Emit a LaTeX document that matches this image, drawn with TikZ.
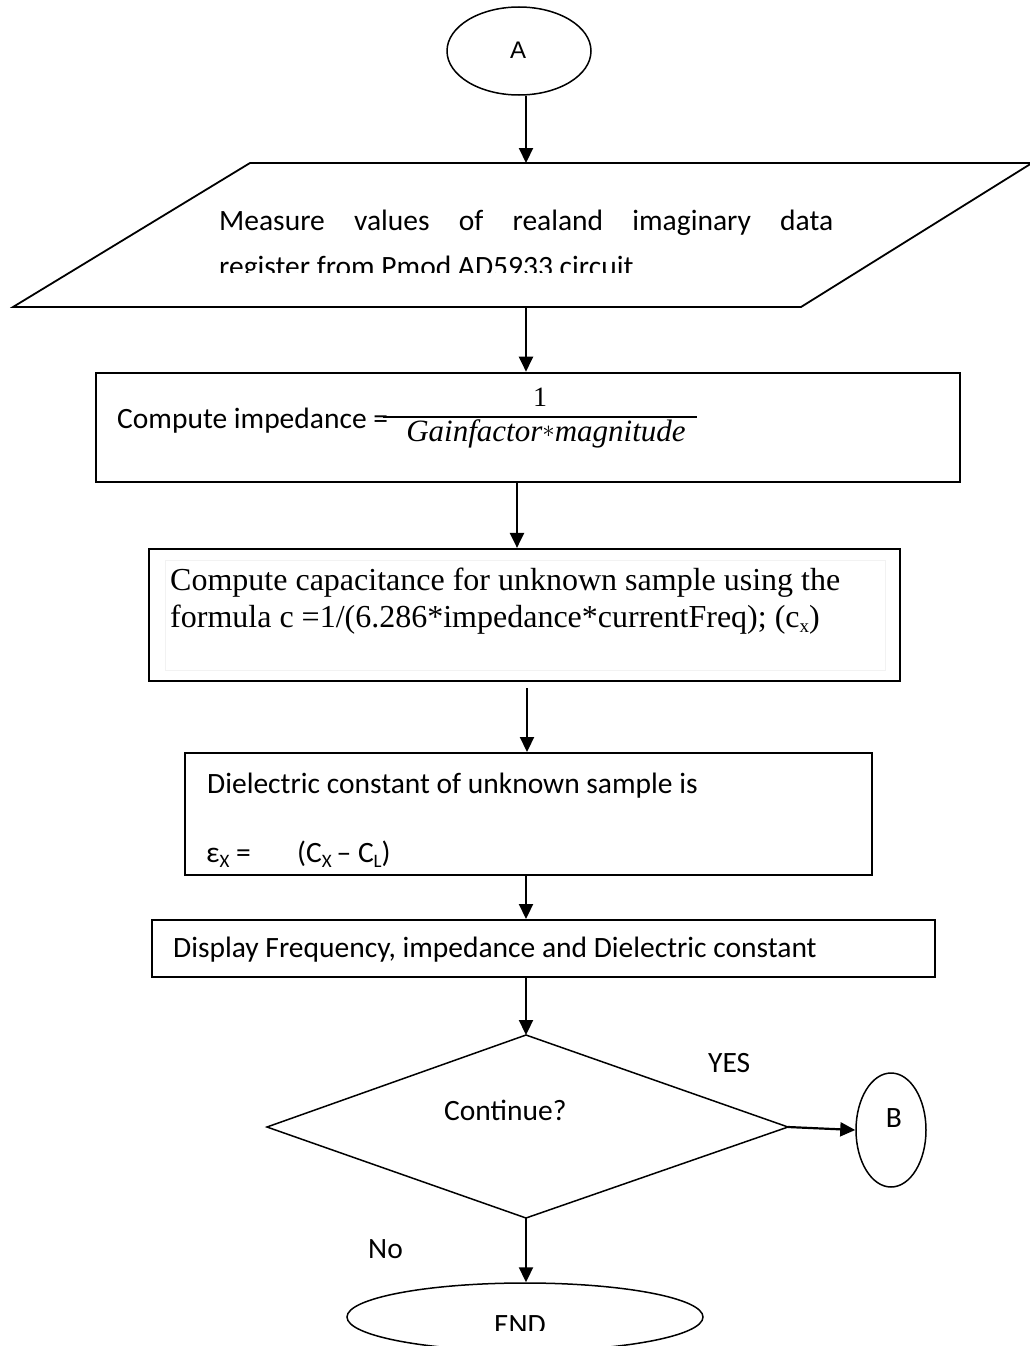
\documentclass[tikz,border=0pt]{standalone}
\usepackage{fontspec}
\setmainfont{Carlito}
\newfontfamily\tnr{Liberation Serif}
\newfontfamily\arialf{Liberation Sans}
\usetikzlibrary{arrows.meta,shapes.geometric}
\newcommand{\lowsub}[1]{\raisebox{-0.17em}{\fontsize{19}{20}\selectfont #1}}
\tikzset{
  box/.style={draw, line width=2pt, rectangle, inner sep=0pt},
  oval/.style={draw, line width=1.5pt, ellipse, inner sep=0pt},
  arr/.style={line width=2.2pt, -{Triangle[length=15pt,width=14pt]}},
  lbl/.style={inner sep=0pt, anchor=base west},
  cal/.style={font=\fontsize{29.5}{35}\selectfont},
  tms/.style={font=\tnr\fontsize{32}{37}\selectfont},
}
\begin{document}
\begin{tikzpicture}[x=1pt,y=-1pt]
\useasboundingbox (0,0) rectangle (1030,1346);
\fill[white] (0,0) rectangle (1030,1346);
\coordinate (ax) at (526,0);
\coordinate (ax2) at (517,0);

% start connector A
\node[oval, minimum width=144pt, minimum height=88pt] (A) at (519,51) {};
\node[inner sep=0pt, anchor=base, font=\arialf\fontsize{24}{28}\selectfont] (Atxt) at (518,59) {A};

% parallelogram
\coordinate (p1) at (250,163);
\coordinate (p2) at (1032,163);
\coordinate (p3) at (801,307);
\coordinate (p4) at (13,307);
\draw[line width=1.8pt] (p1) -- (p2) -- (p3) -- (p4) -- cycle;
\coordinate (pT) at (526,163);
\coordinate (pB) at (526,307);
\node[lbl, cal] (m1) at (219,230) {\makebox[614pt][s]{Measure values of realand imaginary data}};
\begin{scope}
  \clip (0,0) rectangle (1030,272);
  \node[lbl, cal] (m2) at (219,276) {register from Pmod AD5933 circuit};
\end{scope}

% box 2
\node[box, line width=2.6pt, minimum width=864pt, minimum height=109pt] (b2) at (528,427.5) {};
\node[lbl, cal] (c1) at (117,428) {Compute impedance =};
\coordinate (fl) at (383,417);
\coordinate (fr) at (697,417);
\draw[line width=2.2pt] (fl) -- (fr);
\node[inner sep=0pt, anchor=base, font=\tnr\fontsize{28}{30}\selectfont] (num) at (540,406) {1};
\node[inner sep=0pt, anchor=base, font=\tnr\itshape\fontsize{31}{34}\selectfont] (den) at (546,441) {Gainfactor\raisebox{0.1em}{$\ast$}magnitude};

% box 3
\node[box, line width=2.2pt, minimum width=751pt, minimum height=132pt] (b3) at (524.5,615) {};
\draw[gray!10, line width=0.8pt] (165,560) rectangle (885,670);
\node[lbl, tms] (t1) at (170,590) {Compute capacitance for unknown sample using the};
\node[lbl, tms] (t2) at (170,627) {formula c =1/(6.286*impedance*currentFreq); (c\lowsub{x})};
\coordinate (b3gap) at (527,688);

% box 4
\node[box, minimum width=687pt, minimum height=122pt] (b4) at (528.5,814) {};
\node[lbl, cal] (d1) at (207,793) {Dielectric constant of unknown sample is};
\node[lbl, cal] (d2) at (206,862) {ε\lowsub{X} =};
\node[lbl, cal] (d3) at (297,862) {(C\lowsub{X}\,– C\lowsub{L})};

% box 5
\node[box, minimum width=783pt, minimum height=57pt] (b5) at (543.5,948.5) {};
\node[lbl, cal] (e1) at (173,957) {Display Frequency, impedance and Dielectric constant};

% decision
\coordinate (dT) at (526,1035);
\coordinate (dR) at (788,1127);
\coordinate (dB) at (526,1218);
\coordinate (dL) at (267,1127);
\draw[line width=1.5pt] (dT) -- (dR) -- (dB) -- (dL) -- cycle;
\node[lbl, cal] (q) at (444,1120) {Continue?};
\node[lbl, cal] (yes) at (708,1072) {YES};
\node[lbl, cal] (no) at (368,1258) {No};

% B connector
\node[oval, minimum width=70pt, minimum height=114pt] (B) at (891,1130) {};
\node[inner sep=0pt, anchor=base, cal] (Btxt) at (894,1127) {B};

% END
\node[oval, minimum width=356pt, minimum height=68pt] (END) at (525,1317) {};
\begin{scope}
  \clip (0,0) rectangle (1030,1330);
  \node[inner sep=0pt, anchor=base, cal] (endtxt) at (520,1334) {END};
\end{scope}

% connectors
\draw[arr] (A.south -| ax) -- (pT);
\draw[arr] (pB) -- (b2.north -| ax);
\draw[arr] (b2.south -| ax2) -- (b3.north -| ax2);
\draw[arr] (b3gap) -- (b4.north -| b3gap);
\draw[arr] (b4.south -| ax) -- (b5.north -| ax);
\draw[arr] (b5.south -| ax) -- (dT);
\draw[arr] (dR) -- (B.west);
\draw[arr] (dB) -- (END.north -| ax);
\end{tikzpicture}
\end{document}
